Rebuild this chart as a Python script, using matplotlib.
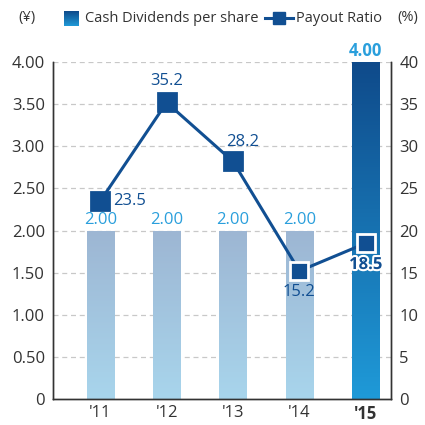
import numpy as np
import matplotlib.pyplot as plt
from matplotlib.colors import LinearSegmentedColormap
from matplotlib.patches import Rectangle
import matplotlib.patheffects as pe

years = ["'11", "'12", "'13", "'14", "'15"]
dividends = [2.00, 2.00, 2.00, 2.00, 4.00]
payout = [23.5, 35.2, 28.2, 15.2, 18.5]
div_labels = ["2.00", "2.00", "2.00", "2.00", "4.00"]
payout_labels = ["23.5", "35.2", "28.2", "15.2", "18.5"]

plt.rcParams['font.family'] = ['Open Sans', 'DejaVu Sans']

light_cmap = LinearSegmentedColormap.from_list("light", ["#a8d5ec", "#9db6d3"])
dark_cmap = LinearSegmentedColormap.from_list("dark", ["#1f9ad8", "#0f4a8a"])
line_col = "#114f92"
label_blue = "#2a9fdc"
text_col = "#333333"

fig = plt.figure(figsize=(4.25, 4.25), dpi=100)
ax = fig.add_axes([0.125, 0.061, 0.795, 0.793])
ax2 = ax.twinx()

x = np.arange(len(years))
w = 0.41
grad = np.linspace(0, 1, 256).reshape(-1, 1)
for i, v in enumerate(dividends):
    cmap = dark_cmap if i == 4 else light_cmap
    rect = Rectangle((x[i] - w / 2, 0), w, v, facecolor="none", edgecolor="none")
    ax.add_patch(rect)
    im = ax.imshow(grad, cmap=cmap, extent=(x[i] - w / 2, x[i] + w / 2, 0, v),
                   origin="lower", aspect="auto", zorder=2)
    im.set_clip_path(rect)
    if i < 4:
        ax.text(x[i], v + 0.03, div_labels[i], ha="center", va="bottom",
                color=label_blue, fontsize=12)
    else:
        ax.text(x[i], v + 0.03, div_labels[i], ha="center", va="bottom",
                color=label_blue, fontsize=12, fontweight="bold", clip_on=False)

ax.set_xlim(-0.71, 4.38)
ax.set_ylim(0, 4)
ax.set_yticks(np.arange(0, 4.01, 0.5))
ax.set_yticklabels(["0"] + [f"{t:.2f}" for t in np.arange(0.5, 4.01, 0.5)])
ax.set_xticks(x)
ax.set_xticklabels(years)
ax.get_xticklabels()[4].set_fontweight("bold")
for t in np.arange(0.5, 4.01, 0.5):
    ax.axhline(t, color="#c8c8c8", lw=0.9, ls=(0, (4, 3)), zorder=1)

ax2.set_ylim(0, 40)
ax2.set_yticks(np.arange(0, 41, 5))
ax2.plot(x, payout, color=line_col, lw=2.2, zorder=3)
for i, p in enumerate(payout):
    edge = "white" if i >= 3 else line_col
    ax2.plot(x[i], p, marker="s", ms=13, mfc=line_col, mec=edge, mew=2, zorder=4)

offsets = [(0.2, 0, "left", "center"), (0, 1.6, "center", "bottom"),
           (0.15, 1.4, "center", "bottom"), (0, -1.6, "center", "top"),
           (0, -1.4, "center", "top")]
for i, (dx, dy, ha, va) in enumerate(offsets):
    txt = ax2.text(x[i] + dx, payout[i] + dy, payout_labels[i], ha=ha, va=va,
                   color=line_col, fontsize=12, zorder=5)
    if i == 4:
        txt.set_fontweight("bold")
        txt.set_path_effects([pe.withStroke(linewidth=3, foreground="white")])

for a in (ax, ax2):
    a.spines["top"].set_visible(False)
    a.tick_params(labelsize=12, colors=text_col, length=0, pad=6)
    for s in ("left", "right", "bottom"):
        a.spines[s].set_color("#333333")
        a.spines[s].set_linewidth(1)
ax.tick_params(axis="x", pad=4)

# legend / unit labels
fig.text(27 / 425, 1 - 18 / 425, "(¥)", ha="center", va="center", fontsize=10.5, color=text_col)
fig.text(408 / 425, 1 - 18 / 425, "(%)", ha="center", va="center", fontsize=10.5, color=text_col)
lax = fig.add_axes([0, 0, 1, 1], facecolor="none")
lax.axis("off")
lax.imshow(grad, cmap=dark_cmap, extent=(64, 79, 26, 11), origin="lower", aspect="auto")
lax.set_xlim(0, 425)
lax.set_ylim(425, 0)
lax.text(85, 18, "Cash Dividends per share", ha="left", va="center", fontsize=10.5, color=text_col)
lax.plot([265, 293], [18, 18], color=line_col, lw=2.2)
lax.plot([279], [18], marker="s", ms=9, color=line_col)
lax.text(296, 18, "Payout Ratio", ha="left", va="center", fontsize=10.5, color=text_col)

fig.savefig("out.png", dpi=100)
